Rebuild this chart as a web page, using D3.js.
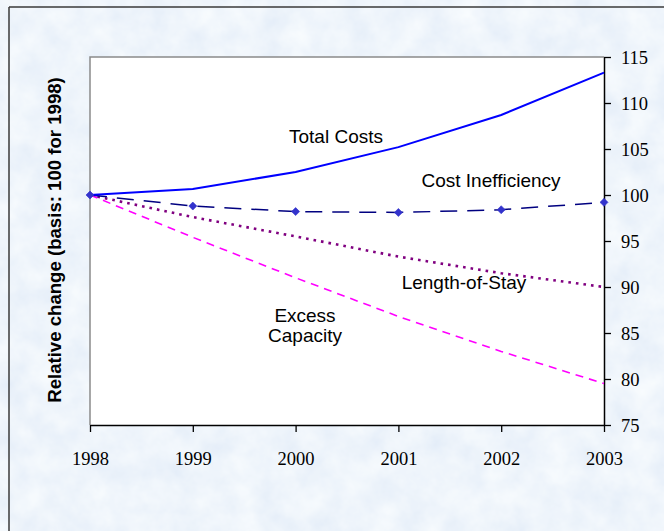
<!DOCTYPE html>
<html>
<head>
<meta charset="utf-8">
<script src="https://cdn.jsdelivr.net/npm/d3@7"></script>
<style>
  html, body { margin: 0; padding: 0; background: #dde9f6; }
  svg { display: block; }
</style>
</head>
<body>
<script>
// Relative change of hospital cost components, index 1998 = 100
const years = [1998, 1999, 2000, 2001, 2002, 2003];
const totalCosts = [100, 100.65, 102.5, 105.2, 108.7, 113.3];
const costInefficiency = [100, 98.8, 98.2, 98.1, 98.4, 99.2];
const lengthOfStay = [100, 97.6, 95.5, 93.3, 91.5, 90.0];
const excessCapacity = [100, 95.4, 91.0, 86.8, 83.0, 79.5];
const yTicks = [75, 80, 85, 90, 95, 100, 105, 110, 115];
const yTitle = "Relative change (basis: 100 for 1998)";

const W = 664, H = 531;
const plot = { left: 90, right: 604, top: 57, bottom: 425 };

const svg = d3.select("body").append("svg")
  .attr("width", W).attr("height", H);

// Mottled light-blue paper background
const defs = svg.append("defs");
const tex = defs.append("filter").attr("id", "paper")
  .attr("x", 0).attr("y", 0).attr("width", "100%").attr("height", "100%");
tex.append("feTurbulence").attr("type", "fractalNoise")
  .attr("baseFrequency", 0.035).attr("numOctaves", 4).attr("seed", 7);
tex.append("feColorMatrix").attr("type", "matrix")
  .attr("values", "0.2 0 0 0 0.76  0.15 0 0 0 0.835  0.06 0 0 0 0.935  0 0 0 0 1");

svg.append("rect").attr("width", W).attr("height", H)
  .attr("filter", "url(#paper)");

// frame edges
svg.append("line").attr("x1", 9).attr("x2", 9).attr("y1", 7).attr("y2", H)
  .attr("stroke", "#3a3a3a").attr("stroke-width", 1.5);
svg.append("line").attr("x1", 9).attr("x2", W).attr("y1", 7).attr("y2", 7)
  .attr("stroke", "#3a3a3a").attr("stroke-width", 1.5);

const x = d3.scaleLinear().domain([1998, 2003]).range([plot.left, plot.right]);
const y = d3.scaleLinear().domain([75, 115]).range([plot.bottom, plot.top]);

// plot area
svg.append("rect")
  .attr("x", plot.left).attr("y", plot.top)
  .attr("width", plot.right - plot.left).attr("height", plot.bottom - plot.top)
  .attr("fill", "#ffffff");
svg.append("path")
  .attr("d", `M${plot.left},${plot.bottom}V${plot.top}H${plot.right}`)
  .attr("fill", "none").attr("stroke", "#8a8a8a").attr("stroke-width", 1.5);

// axes
const xAxis = svg.append("g").attr("transform", `translate(0,${plot.bottom})`)
  .call(d3.axisBottom(x).tickValues(years).tickFormat(d3.format("d"))
    .tickSizeInner(7).tickSizeOuter(0).tickPadding(20));
const yAxis = svg.append("g").attr("transform", `translate(${plot.right},0)`)
  .call(d3.axisRight(y).tickValues(yTicks).tickSizeInner(7).tickSizeOuter(0).tickPadding(10));

[xAxis, yAxis].forEach(g => {
  g.select(".domain").attr("stroke", "#000").attr("stroke-width", 1.5);
  g.selectAll(".tick line").attr("stroke", "#000").attr("stroke-width", 1.3);
  g.selectAll(".tick text")
    .attr("font-family", "'Liberation Serif', 'Times New Roman', serif")
    .attr("font-size", 18.5).attr("fill", "#000");
});
yAxis.selectAll(".tick text").attr("dy", "0.36em");

// y title (left)
svg.append("text")
  .attr("transform", `translate(61,240) rotate(-90)`)
  .attr("text-anchor", "middle")
  .attr("font-family", "'Liberation Sans', Arial, sans-serif")
  .attr("font-weight", "bold").attr("font-size", 18.6)
  .text(yTitle);

const line = d3.line().x((d, i) => x(years[i])).y(d => y(d));

const series = [
  { values: excessCapacity, color: "#ff00ff", width: 1.6, dash: "8,6" },
  { values: lengthOfStay, color: "#800080", width: 2.6, dash: "2.6,5" },
  { values: costInefficiency, color: "#000080", width: 1.5, dash: "17,10" },
  { values: totalCosts, color: "#0000ff", width: 2, dash: null }
];

svg.append("g").selectAll("path").data(series).join("path")
  .attr("d", d => line(d.values))
  .attr("fill", "none")
  .attr("stroke", d => d.color)
  .attr("stroke-width", d => d.width)
  .attr("stroke-dasharray", d => d.dash);

// diamond markers on the cost inefficiency series (rotated squares)
svg.append("g").selectAll("path").data(costInefficiency).join("path")
  .attr("d", d3.symbol(d3.symbolSquare, 32))
  .attr("transform", (d, i) => `translate(${x(years[i])},${y(d)}) rotate(45)`)
  .attr("fill", "#3333cc").attr("stroke", "#3333cc").attr("stroke-width", 0.6);

// series labels
const labels = [
  { lines: ["Total Costs"], cx: 336, y: 143 },
  { lines: ["Cost Inefficiency"], cx: 491, y: 187 },
  { lines: ["Length-of-Stay"], cx: 464, y: 289 },
  { lines: ["Excess", "Capacity"], cx: 305, y: 322 }
];
labels.forEach(l => {
  const t = svg.append("text")
    .attr("text-anchor", "middle")
    .attr("font-family", "'Liberation Sans', Arial, sans-serif")
    .attr("font-size", 19).attr("fill", "#000");
  l.lines.forEach((s, k) => {
    t.append("tspan").attr("x", l.cx).attr("y", l.y + k * 20).text(s);
  });
});
</script>
</body>
</html>
